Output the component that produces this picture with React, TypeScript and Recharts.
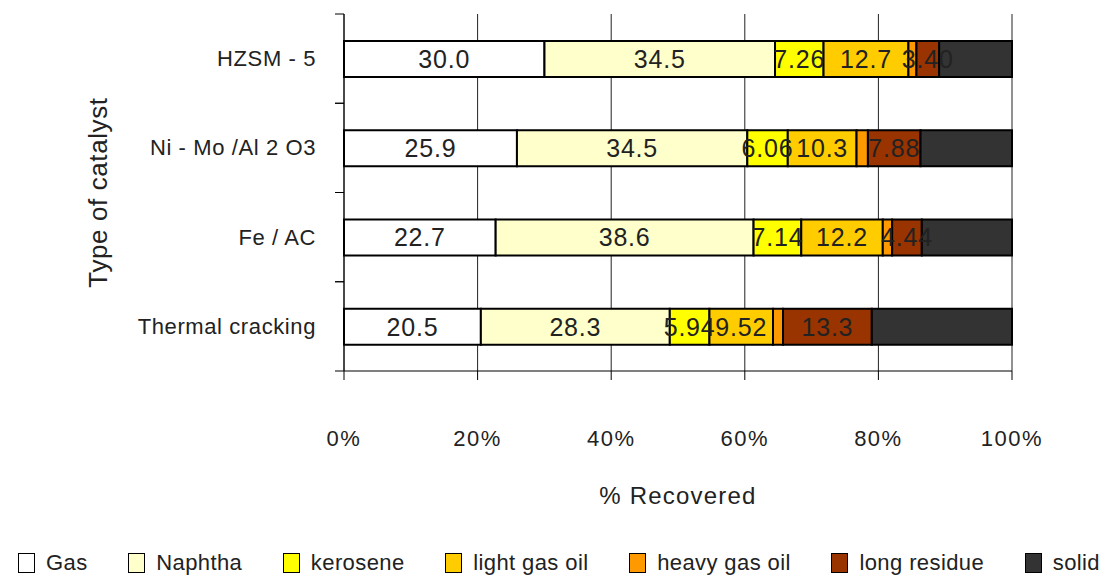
import React from 'react';
import { BarChart, Bar, XAxis, YAxis, CartesianGrid, Legend, LabelList } from 'recharts';

const catalysts = ['HZSM - 5', 'Ni - Mo /Al 2 O3', 'Fe / AC', 'Thermal cracking'];

const gas = [30.0, 25.9, 22.7, 20.5];
const naphtha = [34.5, 34.5, 38.6, 28.3];
const kerosene = [7.26, 6.06, 7.14, 5.94];
const lightGasOil = [12.7, 10.3, 12.2, 9.52];
const heavyGasOil = [1.2, 1.7, 1.4, 1.5];
const longResidue = [3.4, 7.88, 4.44, 13.3];
const solid = [10.9, 13.7, 13.5, 21.0];

const fractionKeys = ['gas', 'naphtha', 'kerosene', 'lgo', 'hgo', 'residue', 'solid'];
const fractionNames = ['Gas', 'Naphtha', 'kerosene', 'light gas oil', 'heavy gas oil', 'long residue', 'solid'];
const fractionValues = [gas, naphtha, kerosene, lightGasOil, heavyGasOil, longResidue, solid];
const fractionColors = ['#ffffff', '#ffffcc', '#ffff00', '#ffcc00', '#ff9900', '#993300', '#333333'];
const showLabel = [true, true, true, true, false, true, false];

const xTicks = [0, 0.2, 0.4, 0.6, 0.8, 1];

const data = catalysts.map((name, i) => {
  const row: Record<string, string | number> = { name };
  fractionKeys.forEach((k, j) => {
    row[k] = fractionValues[j][i];
  });
  return row;
});

const FONT = '"Liberation Sans", Arial, sans-serif';
const TEXT = '#222';
const WIDTH = 1108;
const HEIGHT = 576;
const MARGIN = { top: 14, right: 96, bottom: 0, left: 0 };
const Y_AXIS_WIDTH = 344;
const X_AXIS_HEIGHT = 179;
const LEGEND_HEIGHT = 26;
const PLOT_LEFT = MARGIN.left + Y_AXIS_WIDTH;
const PLOT_HEIGHT = HEIGHT - MARGIN.top - MARGIN.bottom - X_AXIS_HEIGHT - LEGEND_HEIGHT;
const HALF_BAND = PLOT_HEIGHT / catalysts.length / 2;

// category label in the middle, tick marks on the band edges
const CatalystTick = (props: any) => {
  const { y, payload } = props;
  return (
    <g>
      <line x1={PLOT_LEFT - 9} x2={PLOT_LEFT} y1={y - HALF_BAND} y2={y - HALF_BAND} stroke="#000" />
      <line x1={PLOT_LEFT - 9} x2={PLOT_LEFT} y1={y + HALF_BAND} y2={y + HALF_BAND} stroke="#000" />
      <text
        x={PLOT_LEFT - 28}
        y={y}
        textAnchor="end"
        dominantBaseline="central"
        fill={TEXT}
        fontSize={22}
        fontFamily={FONT}
        letterSpacing={0.6}
      >
        {payload.value}
      </text>
    </g>
  );
};

const YTitle = (props: any) => {
  const { viewBox } = props;
  const cx = viewBox.x + 98;
  const cy = viewBox.y + viewBox.height / 2;
  return (
    <text
      x={cx}
      y={cy}
      transform={`rotate(-90 ${cx} ${cy})`}
      textAnchor="middle"
      dominantBaseline="central"
      fill={TEXT}
      fontSize={26}
      fontFamily={FONT}
      letterSpacing={0.6}
    >
      Type of catalyst
    </text>
  );
};

const XTitle = (props: any) => {
  const { viewBox } = props;
  return (
    <text
      x={viewBox.x + viewBox.width / 2}
      y={viewBox.y + 124}
      textAnchor="middle"
      dominantBaseline="central"
      fill={TEXT}
      fontSize={24}
      fontFamily={FONT}
      letterSpacing={1.2}
    >
      % Recovered
    </text>
  );
};

const LegendRow = () => (
  <div
    style={{
      height: LEGEND_HEIGHT,
      display: 'flex',
      alignItems: 'center',
      justifyContent: 'space-between',
      padding: '0 8px 0 18px',
      fontFamily: FONT,
      fontSize: 22,
      letterSpacing: 0.4,
      color: TEXT,
    }}
  >
    {fractionNames.map((name, i) => (
      <span key={name} style={{ display: 'flex', alignItems: 'center' }}>
        <span
          style={{
            display: 'inline-block',
            width: 17,
            height: 20,
            boxSizing: 'border-box',
            background: fractionColors[i],
            border: '1.5px solid #000',
            marginRight: 11,
          }}
        />
        {name}
      </span>
    ))}
  </div>
);

export default function App() {
  return (
    <div style={{ position: 'absolute', left: 0, top: 0, background: '#fff' }}>
      <BarChart
        width={WIDTH}
        height={HEIGHT}
        data={data}
        layout="vertical"
        stackOffset="expand"
        margin={MARGIN}
      >
        <CartesianGrid horizontal={false} vertical stroke="#222" />
        <XAxis
          type="number"
          domain={[0, 1]}
          ticks={xTicks}
          interval={0}
          tickFormatter={(v: number) => `${Math.round(v * 100)}%`}
          axisLine={{ stroke: '#000' }}
          tickLine={{ stroke: '#000' }}
          tickSize={9}
          tickMargin={50}
          height={X_AXIS_HEIGHT}
          tick={{ fill: TEXT, fontSize: 22, fontFamily: FONT, letterSpacing: 1.5 }}
          label={{ content: <XTitle /> }}
        />
        <YAxis
          type="category"
          dataKey="name"
          width={Y_AXIS_WIDTH}
          interval={0}
          axisLine={{ stroke: '#000' }}
          tickLine={false}
          tick={(p: any) => <CatalystTick {...p} />}
          label={{ content: <YTitle /> }}
        />
        <Legend
          verticalAlign="bottom"
          content={<LegendRow />}
          wrapperStyle={{ left: 0, width: WIDTH, height: LEGEND_HEIGHT }}
        />
        {fractionKeys.map((key, i) => (
          <Bar
            key={key}
            dataKey={key}
            name={fractionNames[i]}
            stackId="recovered"
            fill={fractionColors[i]}
            stroke="#000"
            strokeWidth={2}
            barSize={36}
            isAnimationActive={false}
          >
            {showLabel[i] && (
              <LabelList
                dataKey={key}
                position="center"
                formatter={(v: any) => Number(v).toPrecision(3)}
                fill={TEXT}
                fontSize={25}
                fontFamily={FONT}
                letterSpacing={0.8}
              />
            )}
          </Bar>
        ))}
      </BarChart>
    </div>
  );
}
